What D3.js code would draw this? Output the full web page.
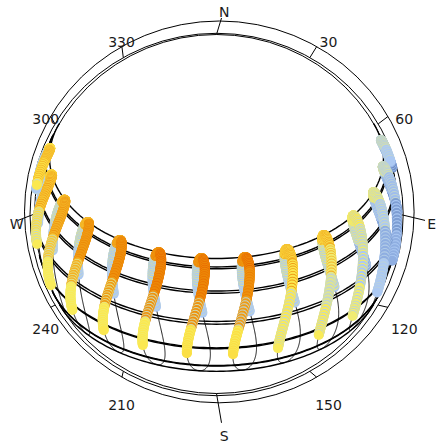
<!DOCTYPE html>
<html>
<head>
<meta charset="utf-8">
<script src="https://cdn.jsdelivr.net/npm/d3@7"></script>
<style>
  body { margin: 0; background: #fff; }
  text { font-family: "DejaVu Sans", Verdana, sans-serif; fill: #1a1a1a; }
</style>
</head>
<body>
<script>
// site and analysis period (1 Apr - 31 Oct)
const latitude = 37.8;
const clockShift = -9.45;        // hour angle (deg) of clock noon vs solar noon
const hours = [6, 7, 8, 9, 10, 11, 12, 13, 14, 15, 16, 17, 18, 19];
const months = ["Apr", "May", "Jun", "Jul", "Aug", "Sep", "Oct"];
const monthStart = [91, 121, 152, 182, 213, 244, 274];
const periodEnd = 304;

// dry bulb temperature (C) per hour, one list per month
const tempApr = [8, 8, 9, 10, 12, 12, 12, 12, 12, 12, 12, 12, 12, 12];
const tempMay = [10, 10, 11, 14, 14, 13, 12, 12, 12, 12, 13, 13, 12, 12];
const tempJun = [15, 17, 19, 20, 21, 22, 25, 25, 25, 24, 23, 23, 22, 21];
const tempJul = [16, 16, 18, 21, 24, 24, 27, 27, 27, 26, 25, 24, 23, 23];
const tempAug = [12, 11, 12, 15, 18, 21, 26, 27, 27, 26, 25, 24, 23, 22];
const tempSep = [9, 9, 10, 12, 17, 21, 25, 26, 26, 25, 24, 23, 22, 21];
const tempOct = [9, 10, 12, 18, 20, 20, 22, 22, 21, 21, 20, 20, 20, 19];
// the days of each month that read differently (every third day)
const altApr = [11, 11, 12, 14, 18, 16, 15, 15, 15, 15, 15, 16, 15, 14];
const altMay = [13, 13, 14, 18, 19, 18, 17, 17, 17, 17, 18, 18, 17, 16];
const altJun = [12, 13, 14, 17, 25, 25, 28, 28, 28, 27, 26, 25, 24, 23];
const altJul = [12, 12, 13, 15, 20, 21, 30, 30, 30, 28, 27, 26, 25, 24];
const altAug = [15, 15, 16, 19, 24, 25, 28, 29, 29, 28, 27, 26, 25, 24];
const altSep = [12, 12, 13, 19, 14, 15, 15, 16, 16, 17, 17, 16, 15, 15];
const altOct = [11, 12, 14, 13, 14, 15, 19, 19, 18, 18, 18, 18, 14, 14];
const tempByMonth = [tempApr, tempMay, tempJun, tempJul, tempAug, tempSep, tempOct];
const altByMonth = [altApr, altMay, altJun, altJul, altAug, altSep, altOct];

// day arcs on the 21st of every month
const arcDays = [21, 52, 80, 111, 141, 172, 202, 233, 264, 294, 325, 355];

const tickAz = [30, 60, 120, 150, 210, 240, 300, 330];
const cardinals = ["N", "E", "S", "W"];

const legendMin = 5, legendMax = 35;
const legendColors = ["rgb(75,107,169)", "rgb(115,147,202)", "rgb(170,200,247)", "rgb(193,213,208)",
  "rgb(245,239,103)", "rgb(252,230,74)", "rgb(239,156,21)", "rgb(234,123,0)",
  "rgb(234,74,0)", "rgb(234,38,0)"];

var width = 436, height = 446;

var svg = d3.select("body").append("svg")
    .attr("width", width)
    .attr("height", height);

// horizon projection (view from above)
const horizon = {cx: 216.5, cy: 214, rx: 182, ry: 179.5};
const x = d3.scaleLinear().domain([-1, 1]).range([horizon.cx - horizon.rx, horizon.cx + horizon.rx]);
const y = d3.scaleLinear().domain([-1, 1]).range([horizon.cy + horizon.ry, horizon.cy - horizon.ry]);

const color = d3.scaleLinear()
    .domain(legendColors.map((c, i) => legendMin + i * (legendMax - legendMin) / (legendColors.length - 1)))
    .range(legendColors)
    .clamp(true);

const rad = Math.PI / 180;
const phi = latitude * rad;

function skyVector(dec, H) {
    return {
        e: -Math.cos(dec) * Math.sin(H),
        n: Math.sin(dec) * Math.cos(phi) - Math.cos(dec) * Math.cos(H) * Math.sin(phi),
        u: Math.sin(dec) * Math.sin(phi) + Math.cos(dec) * Math.cos(H) * Math.cos(phi)
    };
}

function solar(doy, hr) {
    var g = 2 * Math.PI / 365 * (doy - 1 + (hr - 12) / 24);
    var eot = 229.18 * (0.000075 + 0.001868 * Math.cos(g) - 0.032077 * Math.sin(g)
        - 0.014615 * Math.cos(2 * g) - 0.040849 * Math.sin(2 * g));
    var dec = 0.006918 - 0.399912 * Math.cos(g) + 0.070257 * Math.sin(g) - 0.006758 * Math.cos(2 * g)
        + 0.000907 * Math.sin(2 * g) - 0.002697 * Math.cos(3 * g) + 0.00148 * Math.sin(3 * g);
    return {dec: dec, H: (15 * (hr - 12) + eot / 4 + clockShift) * rad};
}

function sunAt(doy, hr) {
    var s = solar(doy, hr);
    return skyVector(s.dec, s.H);
}

var line = d3.line().x(d => x(d.e)).y(d => y(d.n));

// compass
function ellPoint(el, az) {
    return [el.cx + el.rx * Math.sin(az * rad), el.cy - el.ry * Math.cos(az * rad)];
}
const ringMid = {cx: 216.6, cy: 214.5, rx: 186.6, ry: 181.2};
const ringOut = {cx: 219.3, cy: 211.9, rx: 194.8, ry: 190.9};
const tickTip = {cx: 221.5, cy: 220.4, rx: 203.5, ry: 202.4};
const labelEl = {cx: 225, cy: 223.5, rx: 207, ry: 210};
const cardEl = {cx: 224.2, cy: 224.2, rx: 207.6, ry: 211.8};

var compass = svg.append("g").attr("fill", "none").attr("stroke", "#000").attr("stroke-width", 1);
[horizon, ringMid, ringOut].forEach(el => {
    compass.append("ellipse")
        .attr("cx", el.cx).attr("cy", el.cy).attr("rx", el.rx).attr("ry", el.ry);
});
tickAz.forEach(a => {
    var p0 = ellPoint(ringMid, a), p1 = ellPoint(ringOut, a);
    compass.append("line").attr("x1", p0[0]).attr("y1", p0[1]).attr("x2", p1[0]).attr("y2", p1[1]);
});
cardinals.forEach((c, i) => {
    var p0 = ellPoint(horizon, i * 90), p1 = ellPoint(tickTip, i * 90);
    compass.append("line").attr("x1", p0[0]).attr("y1", p0[1]).attr("x2", p1[0]).attr("y2", p1[1]);
});

svg.append("g").selectAll("text")
    .data(tickAz)
    .enter().append("text")
    .attr("x", d => ellPoint(labelEl, d)[0])
    .attr("y", d => ellPoint(labelEl, d)[1])
    .attr("text-anchor", "middle")
    .attr("dominant-baseline", "central")
    .attr("font-size", 14)
    .text(d => d);

svg.append("g").selectAll("text")
    .data(cardinals)
    .enter().append("text")
    .attr("x", (d, i) => ellPoint(cardEl, i * 90)[0])
    .attr("y", (d, i) => ellPoint(cardEl, i * 90)[1])
    .attr("text-anchor", "middle")
    .attr("dominant-baseline", "central")
    .attr("font-size", 14)
    .text(d => d);

// analemmas (full year, above horizon only)
var anaG = svg.append("g").attr("fill", "none").attr("stroke", "#000").attr("stroke-width", 0.9);
hours.forEach(h => {
    var segs = [], cur = [];
    for (var d = 1; d <= 366; d++) {
        var p = sunAt(d > 365 ? 1 : d, h);
        if (p.u > 0) cur.push(p);
        else if (cur.length) { segs.push(cur); cur = []; }
    }
    if (cur.length) segs.push(cur);
    segs.forEach(s => anaG.append("path").attr("d", line(s)));
});

// day arcs
var arcG = svg.append("g").attr("fill", "none").attr("stroke", "#000").attr("stroke-width", 1.4);
arcDays.forEach(d => {
    var dec = solar(d, 12).dec;
    var H0 = Math.acos(-Math.tan(phi) * Math.tan(dec));
    var pts = d3.range(0, 121).map(i => skyVector(dec, -H0 + 2 * H0 * i / 120));
    arcG.append("path").attr("d", line(pts));
});

// hourly sun positions coloured by temperature
var suns = [];
hours.forEach((h, hi) => {
    for (var d = monthStart[0]; d <= periodEnd; d++) {
        var p = sunAt(d, h);
        if (p.u <= 0) continue;
        var m = d3.bisectRight(monthStart, d) - 1;
        var list = (d % 3 === 0) ? altByMonth[m] : tempByMonth[m];
        suns.push({e: p.e, n: p.n, t: list[hi]});
    }
});

svg.append("g").selectAll("circle")
    .data(suns)
    .enter().append("circle")
    .attr("cx", d => x(d.e))
    .attr("cy", d => y(d.n))
    .attr("r", 5)
    .attr("fill", d => color(d.t));
</script>
</body>
</html>
